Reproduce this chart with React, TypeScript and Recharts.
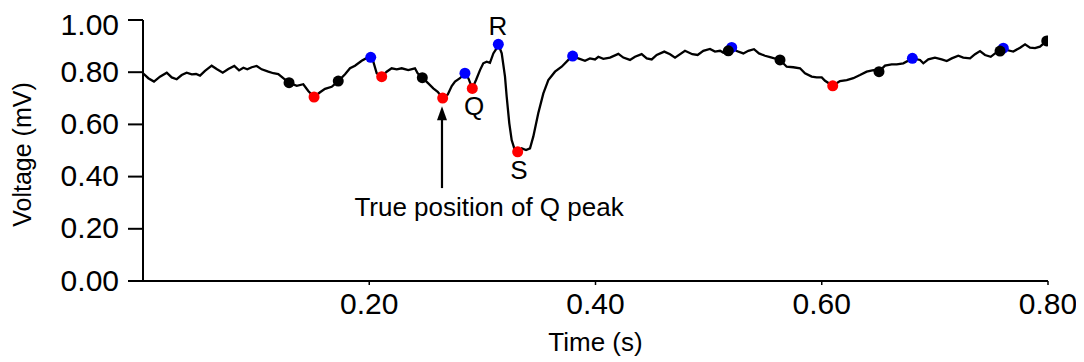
import React from 'react';
import {
  ComposedChart, Line, Scatter, XAxis, YAxis, ReferenceDot, ReferenceLine, Label,
} from 'recharts';

// ECG trace (time in s, voltage in mV)
const traceTime = [
  0.0000, 0.0047, 0.0097, 0.0150, 0.0210, 0.0254, 0.0298, 0.0342, 0.0386, 0.0431,
  0.0469, 0.0504, 0.0548, 0.0607, 0.0651, 0.0705, 0.0754, 0.0807, 0.0849, 0.0887,
  0.0922, 0.0961, 0.1005, 0.1049, 0.1108, 0.1152, 0.1196, 0.1240,
  0.1291, 0.1359, 0.1417, 0.1461, 0.1512, 0.1565, 0.1609, 0.1668, 0.1726, 0.1786,
  0.1830, 0.1874, 0.1933, 0.1971, 0.2013, 0.2036, 0.2066, 0.2110, 0.2154, 0.2198,
  0.2243, 0.2287, 0.2345, 0.2404, 0.2428, 0.2469, 0.2522, 0.2566, 0.2605, 0.2649,
  0.2694, 0.2729, 0.2758, 0.2802, 0.2846, 0.2876, 0.2911, 0.2944, 0.2979, 0.3008,
  0.3038, 0.3067, 0.3097, 0.3127, 0.3141, 0.3171, 0.3200, 0.3215, 0.3238, 0.3259,
  0.3282, 0.3312, 0.3348, 0.3386, 0.3421, 0.3450, 0.3494, 0.3539, 0.3583, 0.3642,
  0.3701, 0.3760, 0.3798, 0.3848, 0.3907, 0.3951, 0.3996, 0.4025, 0.4069, 0.4128,
  0.4202, 0.4246, 0.4305, 0.4349, 0.4408, 0.4453, 0.4497, 0.4541, 0.4608, 0.4659,
  0.4703, 0.4791, 0.4856, 0.4903, 0.4953, 0.5012, 0.5056, 0.5101, 0.5130, 0.5174,
  0.5204, 0.5248, 0.5307, 0.5351, 0.5401, 0.5445, 0.5498, 0.5543, 0.5631, 0.5690,
  0.5749, 0.5808, 0.5852, 0.5911, 0.5955, 0.6000, 0.6029, 0.6097, 0.6161, 0.6221,
  0.6279, 0.6338, 0.6397, 0.6456, 0.6506, 0.6559, 0.6618, 0.6663, 0.6721, 0.6801,
  0.6869, 0.6898, 0.6942, 0.7001, 0.7060, 0.7105, 0.7149, 0.7207, 0.7251, 0.7311,
  0.7355, 0.7399, 0.7443, 0.7494, 0.7532, 0.7576, 0.7605, 0.7635, 0.7693, 0.7753,
  0.7797, 0.7841, 0.7885, 0.7929, 0.7989,
];
const traceVolt = [
  0.796, 0.777, 0.764, 0.783, 0.798, 0.780, 0.773, 0.789, 0.798, 0.792,
  0.793, 0.787, 0.805, 0.825, 0.812, 0.798, 0.812, 0.824, 0.807, 0.817,
  0.811, 0.819, 0.824, 0.811, 0.802, 0.796, 0.793, 0.777,
  0.760, 0.748, 0.754, 0.728, 0.705, 0.723, 0.736, 0.744, 0.766, 0.792,
  0.815, 0.825, 0.844, 0.853, 0.857, 0.840, 0.796, 0.783, 0.802, 0.815,
  0.811, 0.815, 0.808, 0.815, 0.796, 0.779, 0.757, 0.738, 0.725, 0.701,
  0.715, 0.747, 0.764, 0.777, 0.796, 0.777, 0.738, 0.770, 0.808, 0.834,
  0.840, 0.836, 0.872, 0.892, 0.907, 0.872, 0.783, 0.706, 0.604, 0.540,
  0.508, 0.495, 0.508, 0.502, 0.508, 0.553, 0.643, 0.719, 0.770, 0.802,
  0.821, 0.847, 0.862, 0.853, 0.844, 0.853, 0.849, 0.859, 0.851, 0.856,
  0.870, 0.856, 0.847, 0.859, 0.869, 0.853, 0.849, 0.866, 0.879, 0.869,
  0.856, 0.882, 0.869, 0.866, 0.882, 0.889, 0.879, 0.882, 0.875, 0.882,
  0.895, 0.881, 0.872, 0.882, 0.888, 0.872, 0.863, 0.858, 0.847, 0.821,
  0.819, 0.815, 0.796, 0.783, 0.780, 0.780, 0.767, 0.748, 0.766, 0.770,
  0.777, 0.789, 0.802, 0.808, 0.802, 0.825, 0.830, 0.830, 0.834, 0.853,
  0.847, 0.834, 0.849, 0.856, 0.849, 0.843, 0.853, 0.863, 0.856, 0.853,
  0.869, 0.881, 0.866, 0.859, 0.872, 0.881, 0.892, 0.885, 0.879, 0.894,
  0.907, 0.894, 0.892, 0.898, 0.920,
];

// detected points
const blackTime = [0.1291, 0.1726, 0.2469, 0.5174, 0.5631, 0.6506, 0.7576, 0.7989];
const blackVolt = [0.760, 0.766, 0.779, 0.882, 0.847, 0.802, 0.881, 0.920];
const redTime = [0.1512, 0.2110, 0.2649, 0.2911, 0.3312, 0.6097];
const redVolt = [0.705, 0.783, 0.701, 0.738, 0.495, 0.748];
const blueTime = [0.2013, 0.2846, 0.3141, 0.3798, 0.5204, 0.6801, 0.7605];
const blueVolt = [0.857, 0.796, 0.907, 0.862, 0.895, 0.853, 0.892];

const xTicks = [0.2, 0.4, 0.6, 0.8];
const yTicks = [0, 0.2, 0.4, 0.6, 0.8, 1.0];

// annotations
const peakLabels = [
  { t: 0.3138, v: 0.943, text: 'R' },
  { t: 0.2926, v: 0.636, text: 'Q' },
  { t: 0.3324, v: 0.391, text: 'S' },
  { t: 0.3059, v: 0.249, text: 'True position of Q peak' },
];
const arrowTime = 0.2643;
const arrowFrom = 0.356;
const arrowTo = 0.670;

const zip = (ts: number[], vs: number[]) =>
  ts.slice(0, Math.min(ts.length, vs.length)).map((t, i) => ({ t, v: vs[i] }));

const trace = zip(traceTime, traceVolt);
const black = zip(blackTime, blackVolt);
const red = zip(redTime, redVolt);
const blue = zip(blueTime, blueVolt);

const FONT = '"Liberation Sans", Arial, Helvetica, sans-serif';

const dotShape = (color: string) => (props: any) =>
  <circle cx={props.cx} cy={props.cy} r={5.5} fill={color} stroke="none" />;

export default function App() {
  return (
    <div style={{ width: 1076, height: 354, fontFamily: FONT }}>
      <ComposedChart
        width={1076}
        height={354}
        margin={{ top: 12, right: 36, bottom: 0, left: 0 }}
        style={{ fontFamily: FONT }}
      >
        <XAxis
          type="number"
          dataKey="t"
          domain={[0, 0.8]}
          ticks={xTicks}
          allowDataOverflow
          height={81}
          tickSize={4}
          tickMargin={8}
          tickFormatter={(x: number) => x.toFixed(2)}
          axisLine={{ stroke: '#000', strokeWidth: 2 }}
          tickLine={{ stroke: '#000', strokeWidth: 1.5 }}
          tick={{ fill: '#000', fontSize: 30, fontFamily: FONT }}
        >
          <Label
            content={(p: any) => {
              const vb = p.viewBox || { x: 135, y: 273, width: 905, height: 81 };
              return (
                <text x={vb.x + vb.width / 2} y={vb.y + 70} textAnchor="middle"
                  fontSize={26} fontFamily={FONT} fill="#000">Time (s)</text>
              );
            }}
          />
        </XAxis>
        <YAxis
          type="number"
          dataKey="v"
          domain={[0, 1]}
          ticks={yTicks}
          allowDataOverflow
          width={135}
          tickSize={15}
          tickMargin={9}
          tickFormatter={(y: number) => y.toFixed(2)}
          axisLine={{ stroke: '#000', strokeWidth: 2 }}
          tickLine={{ stroke: '#000', strokeWidth: 2 }}
          tick={{ fill: '#000', fontSize: 30, fontFamily: FONT, dy: -1 }}
        >
          <Label
            content={(p: any) => {
              const vb = p.viewBox || { x: 0, y: 12, width: 135, height: 261 };
              const cy = vb.y + vb.height / 2 + 4;
              return (
                <text x={23} y={cy} textAnchor="middle" transform={`rotate(-90, 23, ${cy})`}
                  fontSize={25} fontFamily={FONT} fill="#000">Voltage (mV)</text>
              );
            }}
          />
        </YAxis>
        <Line
          data={trace}
          dataKey="v"
          type="linear"
          stroke="#000"
          strokeWidth={2.3}
          dot={false}
          activeDot={false}
          isAnimationActive={false}
        />
        <Scatter data={blue} dataKey="v" shape={dotShape('#0000ff')} isAnimationActive={false} />
        <Scatter data={red} dataKey="v" shape={dotShape('#ff0000')} isAnimationActive={false} />
        <Scatter data={black} dataKey="v" shape={dotShape('#000000')} isAnimationActive={false} />
        <ReferenceLine
          segment={[{ x: arrowTime, y: arrowFrom }, { x: arrowTime, y: arrowTo - 0.03 }]}
          stroke="#000"
          strokeWidth={2.2}
        />
        <ReferenceDot
          x={arrowTime}
          y={arrowTo}
          r={0}
          shape={(p: any) => (
            <path d={`M${p.cx},${p.cy} L${p.cx - 5},${p.cy + 14} L${p.cx + 5},${p.cy + 14} Z`} fill="#000" />
          )}
        />
        {peakLabels.map((l) => (
          <ReferenceDot
            key={l.text}
            x={l.t}
            y={l.v}
            r={0}
            shape={(p: any) => (
              <text x={p.cx} y={p.cy} textAnchor="middle" fontSize={26} fontFamily={FONT} fill="#000">
                {l.text}
              </text>
            )}
          />
        ))}
      </ComposedChart>
    </div>
  );
}
